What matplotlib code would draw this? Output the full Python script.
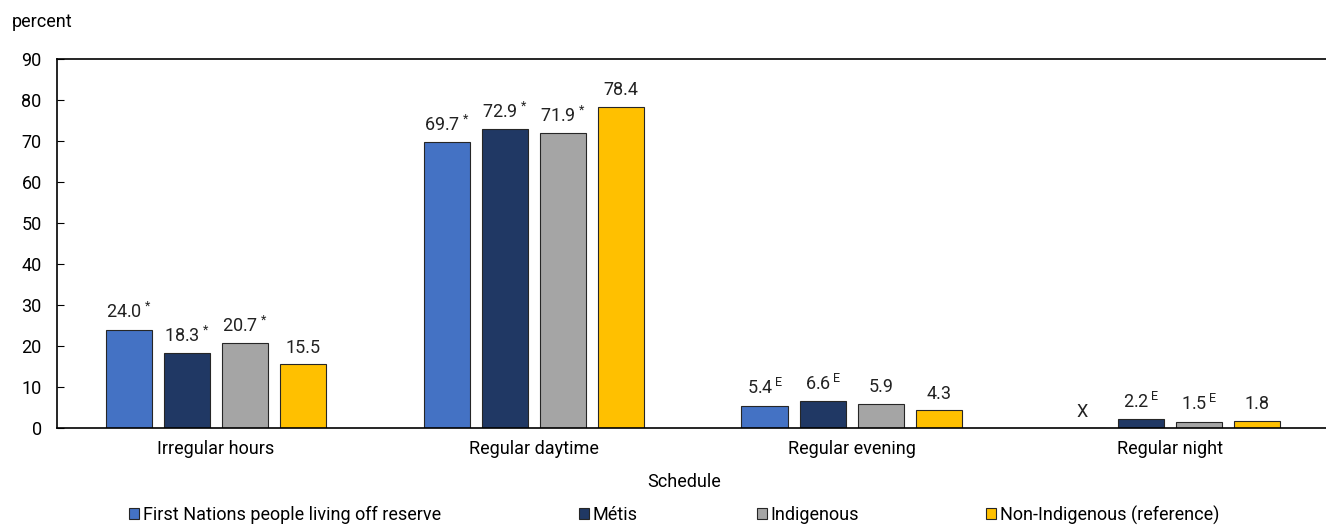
import numpy as np
import matplotlib
matplotlib.use("Agg")
import matplotlib.pyplot as plt
from matplotlib.patches import Patch

# === données ===
categories = ["Irregular hours", "Regular daytime", "Regular evening", "Regular night"]
series_names = ["First Nations people living off reserve", "Métis", "Indigenous",
                "Non-Indigenous (reference)"]
first_nations = [24.0, 69.7, 5.4, np.nan]
metis = [18.3, 72.9, 6.6, 2.2]
indigenous = [20.7, 71.9, 5.9, 1.5]
non_indigenous = [15.5, 78.4, 4.3, 1.8]
# notes: "*" significatif, "E" à utiliser avec prudence, "X" supprimé
notes_fn = ["*", "*", "E", "X"]
notes_metis = ["*", "*", "E", "E"]
notes_indig = ["*", "*", "", "E"]
notes_non = ["", "", "", ""]

colors = ["#4472C4", "#203864", "#A5A5A5", "#FFC000"]

plt.rcParams["font.family"] = ["Roboto", "DejaVu Sans"]
plt.rcParams["mathtext.fontset"] = "custom"
plt.rcParams["mathtext.rm"] = "Roboto"
plt.rcParams["font.size"] = 13

fig = plt.figure(figsize=(13.26, 5.25), dpi=100)
ax = fig.add_axes([57 / 1326, 1 - 428 / 525, 1 - 57 / 1326 + 0.002, 369 / 525])

x = np.arange(len(categories))
width = 0.145
step = 0.183
all_vals = [first_nations, metis, indigenous, non_indigenous]
all_notes = [notes_fn, notes_metis, notes_indig, notes_non]

for i, (vals, notes, col, name) in enumerate(zip(all_vals, all_notes, colors, series_names)):
    pos = x + (i - 1.5) * step
    v = np.array(vals, dtype=float)
    ax.bar(pos, np.nan_to_num(v), width, color=col, edgecolor="#262626", linewidth=0.8,
           label=name)
    for p, val, n in zip(pos, v, notes):
        if n == "X":
            ax.text(p, 1.8, "X", ha="center", va="bottom", color="#222222")
            continue
        if n == "*":
            s = f"{val:.1f}" + r"$\,^{\mathregular{*}}$"
        elif n == "E":
            s = f"{val:.1f}" + r"$^{\mathregular{\,E}}$"
        else:
            s = f"{val:.1f}"
        ax.text(p, val + 1.8, s, ha="center", va="bottom", color="#222222")

ax.set_xlim(-0.5, 3.5)
ax.set_ylim(0, 90)
ax.set_yticks(range(0, 91, 10))
ax.set_xticks(x)
ax.set_xticklabels(categories)
ax.tick_params(axis="y", direction="in", length=5, width=0.8, pad=11)
ax.tick_params(axis="x", length=0, pad=9)
for s in ["left", "bottom", "top"]:
    ax.spines[s].set_linewidth(1.2)
ax.spines["right"].set_visible(False)

fig.text(12 / 1326, 1 - 22 / 525, "percent", ha="left", va="center")
fig.text(684 / 1326, 1 - 482 / 525, "Schedule", ha="center", va="center")

# légende en quatre morceaux, comme sur l'original
leg_x = [129, 579, 757, 986]
for xx, col, name in zip(leg_x, colors, series_names):
    h = Patch(facecolor=col, edgecolor="#262626", linewidth=0.8)
    fig.legend([h], [name], loc="center left", bbox_to_anchor=(xx / 1326, 1 - 515 / 525),
               frameon=False, handlelength=0.55, handleheight=0.55, handletextpad=0.2,
               borderpad=0, borderaxespad=0)

plt.savefig("out.png", dpi=100)
